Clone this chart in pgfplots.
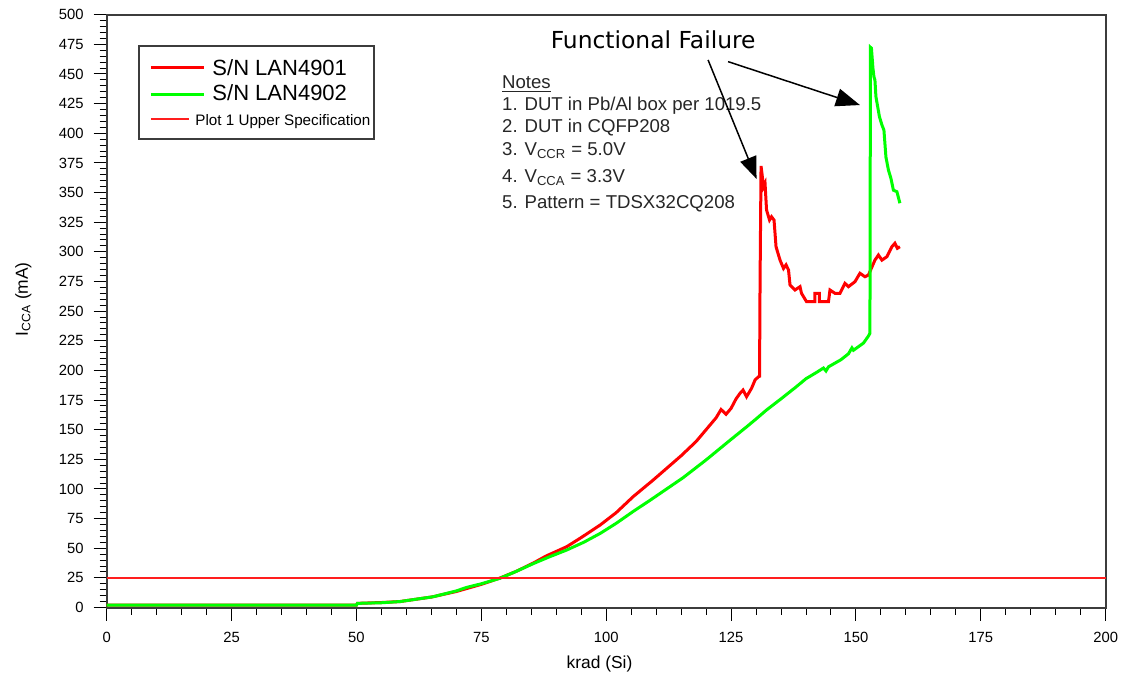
\documentclass[border=0pt]{standalone}
\usepackage{fontspec}
\setmainfont{Liberation Sans}
\newfontfamily\calloutfont{DejaVu Sans}
\usepackage{pgfplots}
\pgfplotsset{compat=1.18}
\usetikzlibrary{arrows.meta}

\definecolor{trace1}{RGB}{255,0,0}
\definecolor{trace2}{RGB}{0,255,0}
\definecolor{specred}{RGB}{255,30,30}
\definecolor{framegray}{RGB}{60,60,60}

\pgfplotsset{
  legend long/.style={legend image code/.code={%
    \path[draw=none] (-4pt,0pt) -- (26.5pt,0pt); \draw[##1] (0pt,0pt) -- (26.5pt,0pt);}},
  legend short/.style={legend image code/.code={%
    \path[draw=none] (-4pt,0pt) -- (26.5pt,0pt);
    \draw[##1, draw=specred, line width=0.9pt] (0pt,0pt) -- (19pt,0pt);}},
}

\begin{document}
\begin{tikzpicture}
\begin{axis}[
  at={(0pt,0pt)}, anchor=south west,
  scale only axis, width=499.5pt, height=296.4pt,
  xmin=0, xmax=200, ymin=0, ymax=500,
  xtick distance=25, ytick distance=25,
  minor x tick num=4, minor y tick num=4,
  tick align=outside, xtick pos=bottom, ytick pos=left,
  major tick length=6.5pt, minor tick length=3.5pt,
  tick style={black, line width=0.5pt},
  axis line style={framegray, line width=1pt},
  ticklabel style={font=\fontsize{7.4}{8}\selectfont},
  xticklabel style={yshift=-2.5pt},
  yticklabel style={xshift=-1.5pt},
  /pgf/number format/assume math mode=true,
  xlabel={krad (Si)},
  ylabel={I\textsubscript{CCA} (mA)},
  label style={font=\fontsize{8.7}{10}\selectfont},
  xlabel style={at={(axis description cs:0.4933,0)}, anchor=base, yshift=-30.25pt},
  ylabel style={at={(axis description cs:-0.0788,0.52)}, anchor=base},
  clip=false,
  legend cell align=left,
  legend style={at={(axis description cs:0.0313,0.949)}, anchor=north west,
    draw=framegray, line width=1pt, inner xsep=2pt, inner ysep=5pt,
    nodes={inner sep=0pt}, column sep=3.5pt, row sep=3pt},
]
% device LAN4901
\addplot[draw=trace1, line width=1.5pt, legend long]
coordinates {
(0,2) (50,2) (50.2,3.5) (55,4.2) (58.7,5) (60,5.8) (65,8.8) (70,13.5) (75,19.5) (78.7,24.8)
(82,30.5) (85.4,37.5) (88,43.5) (92.1,51.3) (95,59) (98.8,69.6) (102,80) (105.4,93.5)
(109.4,107.5) (112,117) (115,128) (118,140) (120,150) (122,160) (123,167) (124,163)
(125,168) (126,176) (126.8,180.7) (127.4,183.4) (128.1,177.8) (129.1,184.9) (129.8,191.9)
(130.5,194.7) (130.7,195) (130.8,273) (131.0,372.4) (131.5,355) (131.8,357.8) (132.1,335.3)
(132.7,326.8) (133.1,329.6) (133.6,326.8) (134.0,304.3) (134.8,293) (135.5,286) (136.0,289)
(136.5,284.7) (136.8,272) (137.8,267.8) (138.8,270.6) (139.1,265) (140.1,258) (141.8,258)
(141.8,265) (142.7,265) (142.7,258) (144.5,258) (144.8,267.8) (145.8,265) (146.8,265)
(147.8,273.4) (148.5,270.6) (149.8,274.8) (150.8,281.9) (151.8,279) (152.5,280.4)
(153.8,293) (154.5,297.3) (155.2,293) (156.2,295.9) (157.2,304.3) (157.8,307.2)
(158.3,303) (158.8,304.3)
};
\addlegendentry{\fontsize{11}{13}\selectfont\rule{0pt}{10pt}S/N LAN4901}
% device LAN4902
\addplot[draw=trace2, line width=1.5pt, legend long]
coordinates {
(0,2) (50,2) (50.2,3.5) (55,4) (58.7,5) (60,5.8) (65.4,9.1) (70,14) (72.1,17) (75,20)
(78.7,24.6) (82,30.5) (85.4,37) (88.5,42.5) (92.1,48.5) (95.5,55) (98.8,62.5) (102,71)
(105.4,81) (108.8,90.5) (112.1,100) (115.4,109.5) (120,124.5) (125,141.8) (128,152)
(130,159) (132.1,166.6) (135,176) (138,186) (140,193) (142,198) (143.5,202) (144,199.5)
(144.5,203) (147,209) (148.5,214) (149.2,219) (149.5,217) (150.5,220) (151.5,223)
(152.5,229) (152.8,231.3) (152.9,472.5) (153.1,471.7) (153.4,455) (153.6,447.7) (153.8,444.9)
(154.0,430.8) (154.7,414) (155.2,407) (155.6,402.7) (156.0,380) (156.5,369) (157.0,362)
(157.5,352) (158.2,350.7) (158.8,341)
};
\addlegendentry{\fontsize{11}{13}\selectfont S/N LAN4902}
% upper specification limit
\addplot[draw=specred, line width=0.8pt, legend short]
coordinates {(0,25) (200,25)};
\addlegendentry{\hspace{-8.5pt}\fontsize{7.6}{9}\selectfont\rule{0pt}{8pt}Plot 1 Upper Specification}

% notes block
\begin{scope}[every node/.style={anchor=base west, inner sep=0pt, font=\fontsize{9.3}{11}\selectfont, text=black!85}]
\node at (axis cs:79.1,437.5) {\underline{Notes}};
\node at (axis cs:79.1,419) {1. DUT in Pb/Al box per 1019.5};
\node at (axis cs:79.1,400.5) {2. DUT in CQFP208};
\node at (axis cs:79.1,381.2) {3. V\textsubscript{CCR} = 5.0V};
\node at (axis cs:79.1,358.5) {4. V\textsubscript{CCA} = 3.3V};
\node at (axis cs:79.1,336.5) {5. Pattern = TDSX32CQ208};
\end{scope}

% failure callout
\node[anchor=base, inner sep=0pt, font=\calloutfont\fontsize{11.7}{13}\selectfont]
  at (axis cs:109.4,471.7) {Functional Failure};
\draw[-{Triangle[length=11pt,width=8.5pt]}, line width=0.75pt]
  (axis cs:120.4,461.8) -- (axis cs:130.1,361.5);
\draw[-{Triangle[length=12pt,width=9pt]}, line width=0.75pt]
  (axis cs:124.4,460.4) -- (axis cs:150.8,423.8);
\end{axis}
\pgfresetboundingbox
\path[use as bounding box] (-53.35pt,-36.75pt) rectangle (509.15pt,303.75pt);
\end{tikzpicture}
\end{document}
